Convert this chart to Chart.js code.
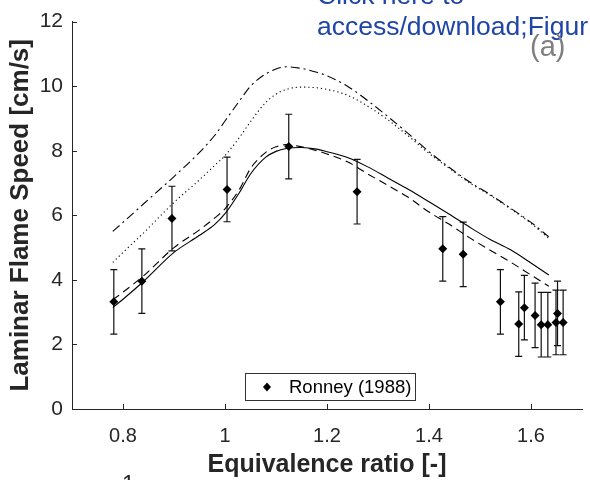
<!DOCTYPE html>
<html>
<head>
<meta charset="utf-8">
<script src="https://cdn.jsdelivr.net/npm/chart.js@4.4.1/dist/chart.umd.min.js"></script>
<style>
  html, body { margin: 0; padding: 0; background: #fff; }
  #wrap { position: relative; width: 590px; height: 480px; overflow: hidden; }
  .note { position: absolute; font-family: "Liberation Sans", Arial, sans-serif; white-space: nowrap; }
  #click { left: 317px; top: -20px; color: #1f45a6; font-size: 26.5px; line-height: 31px; }
  #tag { left: 530px; top: 30px; color: #7f7f7f; font-size: 29px; line-height: normal; }
  #stub { left: 122px; top: 471px; color: #262626; font-size: 23px; }
</style>
</head>
<body>
<div id="wrap">
  <canvas id="myChart" width="590" height="480"></canvas>
  <div class="note" id="click">Click here to<br>access/download;Figur</div>
  <div class="note" id="tag">(a)</div>
  <div class="note" id="stub">1</div>
</div>
<script>
// tick labels
var xTicks = [0.8, 1, 1.2, 1.4, 1.6];
var yTicks = [0, 2, 4, 6, 8, 10, 12];

// Ronney (1988) measurements
var phiExp = [0.782, 0.837, 0.896, 1.004, 1.125, 1.259, 1.427, 1.467, 1.540, 1.576, 1.587, 1.608, 1.620, 1.633, 1.652, 1.649, 1.663];
var suExp  = [3.32, 3.96, 5.90, 6.80, 8.13, 6.73, 4.96, 4.79, 3.32, 2.63, 3.14, 2.90, 2.61, 2.61, 2.96, 2.68, 2.68];
var suErr  = [1, 1, 1, 1, 1, 1, 1, 1, 1, 1, 1, 1, 1, 1, 1, 1, 1];

// model curves
var phiModel = [0.78, 0.80, 0.84, 0.90, 0.95, 0.98, 1.00, 1.03, 1.05, 1.08, 1.10, 1.12, 1.15, 1.18, 1.20, 1.24, 1.28, 1.32, 1.36, 1.40, 1.44, 1.48, 1.52, 1.56, 1.60, 1.635];
var suSolid   = [3.14, 3.40, 3.95, 4.85, 5.38, 5.72, 6.05, 6.75, 7.28, 7.80, 7.98, 8.07, 8.10, 8.05, 7.97, 7.79, 7.50, 7.15, 6.80, 6.42, 6.03, 5.63, 5.25, 4.93, 4.52, 4.15];
var suDashed  = [3.38, 3.62, 4.12, 5.00, 5.55, 5.92, 6.20, 6.85, 7.45, 7.95, 8.12, 8.19, 8.12, 8.00, 7.90, 7.66, 7.28, 6.92, 6.55, 6.10, 5.72, 5.30, 4.92, 4.55, 4.15, 3.80];
var suDotted  = [4.54, 4.85, 5.45, 6.40, 7.10, 7.55, 7.85, 8.45, 8.90, 9.50, 9.75, 9.90, 9.97, 9.95, 9.90, 9.72, 9.38, 8.95, 8.45, 7.92, 7.45, 7.00, 6.62, 6.20, 5.75, 5.28];
var suDashDot = [5.50, 5.78, 6.35, 7.20, 7.95, 8.48, 8.92, 9.58, 10.00, 10.38, 10.53, 10.60, 10.55, 10.43, 10.32, 10.00, 9.55, 9.05, 8.52, 7.97, 7.48, 7.03, 6.64, 6.22, 5.78, 5.33];

var ink = '#262626';
var fontName = '"Liberation Sans", Arial, Helvetica, sans-serif';

function pts(xs, ys) {
    return xs.map(function(x, i) { return {x: x, y: ys[i]}; });
}

function curve(ys, dash) {
    return {
        type: 'line',
        data: pts(phiModel, ys),
        borderColor: '#000',
        borderWidth: 1.1,
        borderDash: dash,
        pointRadius: 0,
        fill: false,
        cubicInterpolationMode: 'monotone'
    };
}

// error bars under the diamonds
var errorBars = {
    id: 'errorBars',
    beforeDatasetsDraw: function(chart) {
        var c = chart.ctx, xs = chart.scales.x, ys = chart.scales.y;
        c.save();
        c.strokeStyle = '#111';
        c.lineWidth = 1.2;
        for (var i = 0; i < phiExp.length; i++) {
            var px = xs.getPixelForValue(phiExp[i]);
            var top = ys.getPixelForValue(suExp[i] + suErr[i]);
            var bot = ys.getPixelForValue(suExp[i] - suErr[i]);
            c.beginPath();
            c.moveTo(px, top); c.lineTo(px, bot);
            c.moveTo(px - 3.5, top); c.lineTo(px + 3.5, top);
            c.moveTo(px - 3.5, bot); c.lineTo(px + 3.5, bot);
            c.stroke();
        }
        c.restore();
    }
};

// inward tick marks, legend box
var decor = {
    id: 'decor',
    afterDraw: function(chart) {
        var c = chart.ctx, a = chart.chartArea, xs = chart.scales.x, ys = chart.scales.y;
        c.save();
        c.strokeStyle = ink;
        c.lineWidth = 1;
        c.beginPath();
        xTicks.forEach(function(v) {
            var p = Math.round(xs.getPixelForValue(v)) + 0.5;
            c.moveTo(p, a.bottom); c.lineTo(p, a.bottom - 5);
        });
        yTicks.forEach(function(v) {
            var p = Math.round(ys.getPixelForValue(v)) + 0.5;
            c.moveTo(a.left, p); c.lineTo(a.left + 5, p);
        });
        c.stroke();

        // legend
        var bx = 245.5, by = 373.5, bw = 170, bh = 27;
        c.fillStyle = '#fff';
        c.fillRect(bx, by, bw, bh);
        c.strokeStyle = '#333';
        c.strokeRect(bx, by, bw, bh);
        c.fillStyle = '#000';
        c.beginPath();
        c.moveTo(267, by + bh / 2 - 4.5);
        c.lineTo(271, by + bh / 2);
        c.lineTo(267, by + bh / 2 + 4.5);
        c.lineTo(263, by + bh / 2);
        c.closePath();
        c.fill();
        c.fillStyle = '#000';
        c.font = '18.5px ' + fontName;
        c.textBaseline = 'middle';
        c.fillText('Ronney (1988)', 289, by + bh / 2 + 1);
        c.restore();
    }
};

var ctx = document.getElementById('myChart').getContext('2d');
var myChart = new Chart(ctx, {
    type: 'scatter',
    data: {
        datasets: [
            {
                label: 'Ronney (1988)',
                data: pts(phiExp, suExp),
                pointStyle: 'rectRot',
                pointRadius: 4.5,
                backgroundColor: '#000',
                borderColor: '#000',
                borderWidth: 0,
                showLine: false
            },
            curve(suSolid, []),
            curve(suDashed, [8, 5]),
            curve(suDotted, [1.2, 3]),
            curve(suDashDot, [9, 4, 2, 4])
        ]
    },
    options: {
        responsive: false,
        animation: false,
        layout: { padding: { top: 15, right: 8, left: 0, bottom: 0 } },
        plugins: { legend: { display: false }, tooltip: { enabled: false } },
        scales: {
            x: {
                type: 'linear',
                min: 0.7, max: 1.7,
                afterBuildTicks: function(s) { s.ticks = xTicks.map(function(v) { return {value: v}; }); },
                afterFit: function(s) { s.height = 71; },
                grid: { display: true, drawOnChartArea: false, drawTicks: false },
                border: { display: true, color: ink, width: 1 },
                ticks: {
                    color: ink, padding: 15,
                    font: { family: fontName, size: 20 },
                    callback: function(v) { return String(v); }
                },
                title: {
                    display: true, text: 'Equivalence ratio [-]', color: ink,
                    font: { family: fontName, size: 25, weight: 'bold' },
                    padding: { top: 0, bottom: 0 }
                }
            },
            y: {
                min: 0, max: 12,
                afterBuildTicks: function(s) { s.ticks = yTicks.map(function(v) { return {value: v}; }); },
                afterFit: function(s) { s.width = 72; },
                grid: { display: true, drawOnChartArea: false, drawTicks: false },
                border: { display: true, color: ink, width: 1 },
                ticks: {
                    color: ink, padding: 9,
                    font: { family: fontName, size: 21 }
                },
                title: {
                    display: true, text: 'Laminar Flame Speed [cm/s]', color: ink,
                    font: { family: fontName, size: 26, weight: 'bold' },
                    padding: { top: 5, bottom: 0 }
                }
            }
        }
    },
    plugins: [errorBars, decor]
});
</script>
</body>
</html>
